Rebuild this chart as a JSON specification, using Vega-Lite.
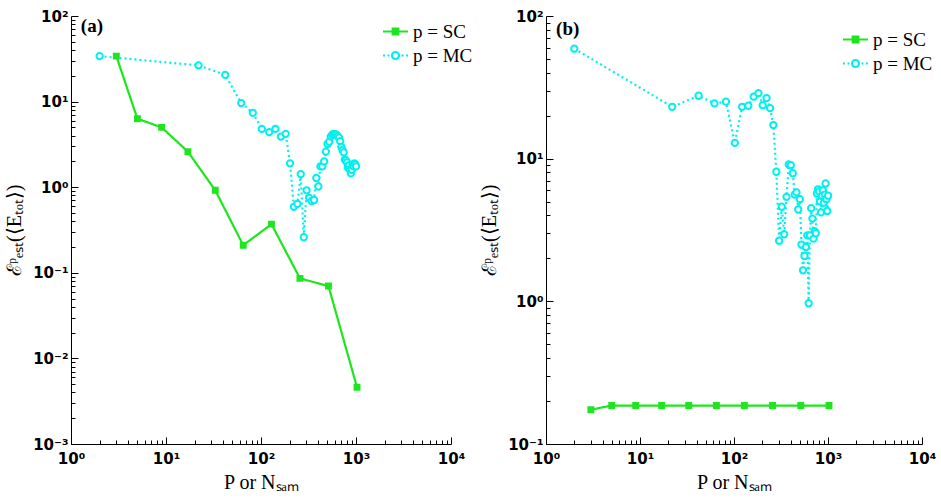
{
  "$schema": "https://vega.github.io/schema/vega-lite/v6.json",
  "background": "white",
  "padding": {"left": 4, "top": 9, "right": 5, "bottom": 3},
  "datasets": {
    "a": [
      {"series": "p = SC", "x": 3, "y": 34},
      {"series": "p = SC", "x": 5, "y": 6.3},
      {"series": "p = SC", "x": 9, "y": 5.0},
      {"series": "p = SC", "x": 17, "y": 2.6},
      {"series": "p = SC", "x": 33, "y": 0.92},
      {"series": "p = SC", "x": 65, "y": 0.21},
      {"series": "p = SC", "x": 129, "y": 0.37},
      {"series": "p = SC", "x": 257, "y": 0.086},
      {"series": "p = SC", "x": 513, "y": 0.070},
      {"series": "p = SC", "x": 1025, "y": 0.0046},
      {"series": "p = MC", "x": 2, "y": 34},
      {"series": "p = MC", "x": 22, "y": 26.5},
      {"series": "p = MC", "x": 42, "y": 20.5},
      {"series": "p = MC", "x": 62, "y": 9.6},
      {"series": "p = MC", "x": 82, "y": 7.4},
      {"series": "p = MC", "x": 102, "y": 4.8},
      {"series": "p = MC", "x": 122, "y": 4.4},
      {"series": "p = MC", "x": 142, "y": 4.8},
      {"series": "p = MC", "x": 162, "y": 3.9},
      {"series": "p = MC", "x": 182, "y": 4.2},
      {"series": "p = MC", "x": 202, "y": 1.9},
      {"series": "p = MC", "x": 222, "y": 0.59},
      {"series": "p = MC", "x": 242, "y": 0.64},
      {"series": "p = MC", "x": 262, "y": 1.42},
      {"series": "p = MC", "x": 282, "y": 0.26},
      {"series": "p = MC", "x": 302, "y": 0.92},
      {"series": "p = MC", "x": 322, "y": 0.75},
      {"series": "p = MC", "x": 342, "y": 0.69},
      {"series": "p = MC", "x": 362, "y": 0.71},
      {"series": "p = MC", "x": 382, "y": 1.28},
      {"series": "p = MC", "x": 402, "y": 1.02},
      {"series": "p = MC", "x": 422, "y": 1.75},
      {"series": "p = MC", "x": 442, "y": 1.75},
      {"series": "p = MC", "x": 462, "y": 2.0},
      {"series": "p = MC", "x": 482, "y": 2.6},
      {"series": "p = MC", "x": 502, "y": 3.2},
      {"series": "p = MC", "x": 522, "y": 3.4},
      {"series": "p = MC", "x": 542, "y": 3.9},
      {"series": "p = MC", "x": 562, "y": 4.1},
      {"series": "p = MC", "x": 582, "y": 4.2},
      {"series": "p = MC", "x": 602, "y": 4.15},
      {"series": "p = MC", "x": 622, "y": 4.1},
      {"series": "p = MC", "x": 642, "y": 3.95},
      {"series": "p = MC", "x": 662, "y": 3.8},
      {"series": "p = MC", "x": 682, "y": 3.45},
      {"series": "p = MC", "x": 702, "y": 2.95},
      {"series": "p = MC", "x": 722, "y": 2.7},
      {"series": "p = MC", "x": 742, "y": 2.55},
      {"series": "p = MC", "x": 762, "y": 2.1},
      {"series": "p = MC", "x": 782, "y": 2.05},
      {"series": "p = MC", "x": 802, "y": 1.95},
      {"series": "p = MC", "x": 822, "y": 1.7},
      {"series": "p = MC", "x": 842, "y": 1.8},
      {"series": "p = MC", "x": 862, "y": 1.6},
      {"series": "p = MC", "x": 882, "y": 1.45},
      {"series": "p = MC", "x": 902, "y": 1.6},
      {"series": "p = MC", "x": 922, "y": 1.85},
      {"series": "p = MC", "x": 942, "y": 1.75},
      {"series": "p = MC", "x": 962, "y": 1.9},
      {"series": "p = MC", "x": 982, "y": 1.85},
      {"series": "p = MC", "x": 1002, "y": 1.75}
    ],
    "b": [
      {"series": "p = SC", "x": 3, "y": 0.174},
      {"series": "p = SC", "x": 5, "y": 0.186},
      {"series": "p = SC", "x": 9, "y": 0.186},
      {"series": "p = SC", "x": 17, "y": 0.186},
      {"series": "p = SC", "x": 33, "y": 0.186},
      {"series": "p = SC", "x": 65, "y": 0.186},
      {"series": "p = SC", "x": 129, "y": 0.186},
      {"series": "p = SC", "x": 257, "y": 0.186},
      {"series": "p = SC", "x": 513, "y": 0.186},
      {"series": "p = SC", "x": 1025, "y": 0.186},
      {"series": "p = MC", "x": 2, "y": 59},
      {"series": "p = MC", "x": 22, "y": 23.1},
      {"series": "p = MC", "x": 42, "y": 27.6},
      {"series": "p = MC", "x": 62, "y": 24.4},
      {"series": "p = MC", "x": 82, "y": 25.1},
      {"series": "p = MC", "x": 102, "y": 12.9},
      {"series": "p = MC", "x": 122, "y": 23.1},
      {"series": "p = MC", "x": 142, "y": 23.5},
      {"series": "p = MC", "x": 162, "y": 27.2},
      {"series": "p = MC", "x": 182, "y": 28.8},
      {"series": "p = MC", "x": 202, "y": 23.7},
      {"series": "p = MC", "x": 222, "y": 26.6},
      {"series": "p = MC", "x": 242, "y": 22.6},
      {"series": "p = MC", "x": 262, "y": 17.2},
      {"series": "p = MC", "x": 282, "y": 8.1},
      {"series": "p = MC", "x": 302, "y": 2.66},
      {"series": "p = MC", "x": 322, "y": 4.6},
      {"series": "p = MC", "x": 342, "y": 2.95},
      {"series": "p = MC", "x": 362, "y": 5.4},
      {"series": "p = MC", "x": 382, "y": 9.1},
      {"series": "p = MC", "x": 402, "y": 9.0},
      {"series": "p = MC", "x": 422, "y": 7.9},
      {"series": "p = MC", "x": 442, "y": 5.6},
      {"series": "p = MC", "x": 462, "y": 5.8},
      {"series": "p = MC", "x": 482, "y": 4.4},
      {"series": "p = MC", "x": 502, "y": 5.2},
      {"series": "p = MC", "x": 522, "y": 2.5},
      {"series": "p = MC", "x": 542, "y": 1.65},
      {"series": "p = MC", "x": 562, "y": 2.08},
      {"series": "p = MC", "x": 582, "y": 2.4},
      {"series": "p = MC", "x": 602, "y": 2.9},
      {"series": "p = MC", "x": 622, "y": 0.97},
      {"series": "p = MC", "x": 642, "y": 2.9},
      {"series": "p = MC", "x": 662, "y": 4.5},
      {"series": "p = MC", "x": 682, "y": 3.8},
      {"series": "p = MC", "x": 702, "y": 2.75},
      {"series": "p = MC", "x": 722, "y": 3.1},
      {"series": "p = MC", "x": 742, "y": 3.0},
      {"series": "p = MC", "x": 762, "y": 5.7},
      {"series": "p = MC", "x": 782, "y": 6.1},
      {"series": "p = MC", "x": 802, "y": 5.9},
      {"series": "p = MC", "x": 822, "y": 5.0},
      {"series": "p = MC", "x": 842, "y": 4.2},
      {"series": "p = MC", "x": 862, "y": 5.5},
      {"series": "p = MC", "x": 882, "y": 6.0},
      {"series": "p = MC", "x": 902, "y": 4.9},
      {"series": "p = MC", "x": 922, "y": 5.6},
      {"series": "p = MC", "x": 942, "y": 6.7},
      {"series": "p = MC", "x": 962, "y": 5.2},
      {"series": "p = MC", "x": 982, "y": 4.3},
      {"series": "p = MC", "x": 1002, "y": 5.5}
    ]
  },
  "hconcat": [
    {
      "width": 380,
      "height": 428,
      "layer": [
        {
          "data": {"name": "a"},
          "mark": {"type": "line", "strokeWidth": 2.2},
          "encoding": {
            "x": {"field": "x", "type": "quantitative", "scale": {"type": "log", "domain": [1, 10000], "nice": false},
              "axis": {"title": "P or Nₛₐₘ", "values": [1,2,3,4,5,6,7,8,9,10,20,30,40,50,60,70,80,90,100,200,300,400,500,600,700,800,900,1000,2000,3000,4000,5000,6000,7000,8000,9000,10000],
                "labelExpr": "abs(log(datum.value)/LN10 - round(log(datum.value)/LN10)) < 0.001 ? '10' + ['⁻³','⁻²','⁻¹','⁰','¹','²','³','⁴'][round(log(datum.value)/LN10)+3] : ''",
                "tickSize": {"condition": {"test": "abs(log(datum.value)/LN10 - round(log(datum.value)/LN10)) < 0.001", "value": -7}, "value": -4}}},
            "y": {"field": "y", "type": "quantitative", "scale": {"type": "log", "domain": [0.001, 100], "nice": false},
              "axis": {"title": "ℰᵖₑₛₜ(⟨Eₜₒₜ⟩)", "values": [0.001,0.002,0.003,0.004,0.005,0.006,0.007,0.008,0.009,0.01,0.02,0.03,0.04,0.05,0.06,0.07,0.08,0.09,0.1,0.2,0.3,0.4,0.5,0.6,0.7,0.8,0.9,1,2,3,4,5,6,7,8,9,10,20,30,40,50,60,70,80,90,100],
                "labelExpr": "abs(log(datum.value)/LN10 - round(log(datum.value)/LN10)) < 0.001 ? '10' + ['⁻³','⁻²','⁻¹','⁰','¹','²','³','⁴'][round(log(datum.value)/LN10)+3] : ''",
                "tickSize": {"condition": {"test": "abs(log(datum.value)/LN10 - round(log(datum.value)/LN10)) < 0.001", "value": -7}, "value": -4}}},
            "color": {"field": "series", "type": "nominal", "scale": {"domain": ["p = SC", "p = MC"], "range": ["#1ee61e", "#00f0f0"]},
              "legend": {"orient": "none", "legendX": 313, "legendY": 4, "title": null, "symbolSize": 400, "labelOffset": 6, "rowPadding": 2, "labelFont": "Liberation Serif", "labelFontSize": 19,
                "encode": {"symbols": {"update": {
                  "shape": {"signal": "datum.value === 'p = SC' ? 'M-1.25,0H1.25M-0.28,-0.28H0.28V0.28H-0.28Z' : 'M-1.25,0H-1.05M-0.8,0H-0.6M0.6,0H0.8M1.05,0H1.25M0.35,0A0.35,0.35 0 1,1 -0.35,0A0.35,0.35 0 1,1 0.35,0Z'"},
                  "fill": {"signal": "datum.value === 'p = SC' ? '#1ee61e' : 'white'"},
                  "stroke": {"signal": "datum.value === 'p = SC' ? '#1ee61e' : '#00f0f0'"},
                  "strokeWidth": {"value": 2.2},
                  "strokeDash": {"value": []},
                  "opacity": {"value": 1}}}}}},
            "strokeDash": {"field": "series", "type": "nominal", "scale": {"domain": ["p = SC", "p = MC"], "range": [[1, 0], [2, 3]]}, "legend": null}
          }
        },
        {
          "data": {"name": "a"},
          "mark": {"type": "point", "filled": true, "strokeWidth": 2, "opacity": 1},
          "encoding": {
            "x": {"field": "x", "type": "quantitative"},
            "y": {"field": "y", "type": "quantitative"},
            "shape": {"field": "series", "type": "nominal", "scale": {"domain": ["p = SC", "p = MC"], "range": ["square", "circle"]}, "legend": null},
            "fill": {"field": "series", "type": "nominal", "scale": {"domain": ["p = SC", "p = MC"], "range": ["#1ee61e", "white"]}, "legend": null},
            "stroke": {"field": "series", "type": "nominal", "scale": {"domain": ["p = SC", "p = MC"], "range": ["#1ee61e", "#00f0f0"]}, "legend": null},
            "size": {"field": "series", "type": "nominal", "scale": {"domain": ["p = SC", "p = MC"], "range": [24, 40]}, "legend": null}
          }
        },
        {
          "data": {"values": [{"t": "(a)", "x": 1.27, "y": 76}]},
          "mark": {"type": "text", "align": "left", "baseline": "middle", "font": "Liberation Serif", "fontWeight": "bold", "fontSize": 19, "color": "black"},
          "encoding": {
            "x": {"field": "x", "type": "quantitative"},
            "y": {"field": "y", "type": "quantitative"},
            "text": {"field": "t"}
          }
        }
      ]
    },
    {
      "width": 376,
      "height": 428,
      "layer": [
        {
          "data": {"name": "b"},
          "mark": {"type": "line", "strokeWidth": 2.2},
          "encoding": {
            "x": {"field": "x", "type": "quantitative", "scale": {"type": "log", "domain": [1, 10000], "nice": false},
              "axis": {"title": "P or Nₛₐₘ", "values": [1,2,3,4,5,6,7,8,9,10,20,30,40,50,60,70,80,90,100,200,300,400,500,600,700,800,900,1000,2000,3000,4000,5000,6000,7000,8000,9000,10000],
                "labelExpr": "abs(log(datum.value)/LN10 - round(log(datum.value)/LN10)) < 0.001 ? '10' + ['⁻³','⁻²','⁻¹','⁰','¹','²','³','⁴'][round(log(datum.value)/LN10)+3] : ''",
                "tickSize": {"condition": {"test": "abs(log(datum.value)/LN10 - round(log(datum.value)/LN10)) < 0.001", "value": -7}, "value": -4}}},
            "y": {"field": "y", "type": "quantitative", "scale": {"type": "log", "domain": [0.1, 100], "nice": false},
              "axis": {"title": "ℰᵖₑₛₜ(⟨Eₜₒₜ⟩)", "values": [0.1,0.2,0.3,0.4,0.5,0.6,0.7,0.8,0.9,1,2,3,4,5,6,7,8,9,10,20,30,40,50,60,70,80,90,100],
                "labelExpr": "abs(log(datum.value)/LN10 - round(log(datum.value)/LN10)) < 0.001 ? '10' + ['⁻³','⁻²','⁻¹','⁰','¹','²','³','⁴'][round(log(datum.value)/LN10)+3] : ''",
                "tickSize": {"condition": {"test": "abs(log(datum.value)/LN10 - round(log(datum.value)/LN10)) < 0.001", "value": -7}, "value": -4}}},
            "color": {"field": "series", "type": "nominal", "scale": {"domain": ["p = SC", "p = MC"], "range": ["#1ee61e", "#00f0f0"]},
              "legend": {"orient": "none", "legendX": 298, "legendY": 12, "title": null, "symbolSize": 400, "labelOffset": 6, "rowPadding": 2, "labelFont": "Liberation Serif", "labelFontSize": 19,
                "encode": {"symbols": {"update": {
                  "shape": {"signal": "datum.value === 'p = SC' ? 'M-1.25,0H1.25M-0.28,-0.28H0.28V0.28H-0.28Z' : 'M-1.25,0H-1.05M-0.8,0H-0.6M0.6,0H0.8M1.05,0H1.25M0.35,0A0.35,0.35 0 1,1 -0.35,0A0.35,0.35 0 1,1 0.35,0Z'"},
                  "fill": {"signal": "datum.value === 'p = SC' ? '#1ee61e' : 'white'"},
                  "stroke": {"signal": "datum.value === 'p = SC' ? '#1ee61e' : '#00f0f0'"},
                  "strokeWidth": {"value": 2.2},
                  "strokeDash": {"value": []},
                  "opacity": {"value": 1}}}}}},
            "strokeDash": {"field": "series", "type": "nominal", "scale": {"domain": ["p = SC", "p = MC"], "range": [[1, 0], [2, 3]]}, "legend": null}
          }
        },
        {
          "data": {"name": "b"},
          "mark": {"type": "point", "filled": true, "strokeWidth": 2, "opacity": 1},
          "encoding": {
            "x": {"field": "x", "type": "quantitative"},
            "y": {"field": "y", "type": "quantitative"},
            "shape": {"field": "series", "type": "nominal", "scale": {"domain": ["p = SC", "p = MC"], "range": ["square", "circle"]}, "legend": null},
            "fill": {"field": "series", "type": "nominal", "scale": {"domain": ["p = SC", "p = MC"], "range": ["#1ee61e", "white"]}, "legend": null},
            "stroke": {"field": "series", "type": "nominal", "scale": {"domain": ["p = SC", "p = MC"], "range": ["#1ee61e", "#00f0f0"]}, "legend": null},
            "size": {"field": "series", "type": "nominal", "scale": {"domain": ["p = SC", "p = MC"], "range": [24, 40]}, "legend": null}
          }
        },
        {
          "data": {"values": [{"t": "(b)", "x": 1.28, "y": 81}]},
          "mark": {"type": "text", "align": "left", "baseline": "middle", "font": "Liberation Serif", "fontWeight": "bold", "fontSize": 19, "color": "black"},
          "encoding": {
            "x": {"field": "x", "type": "quantitative"},
            "y": {"field": "y", "type": "quantitative"},
            "text": {"field": "t"}
          }
        }
      ]
    }
  ],
  "spacing": 95,
  "bounds": "flush",
  "resolve": {"scale": {"color": "independent", "x": "independent", "y": "independent"}, "legend": {"color": "independent"}},
  "config": {
    "view": {"stroke": null},
    "axis": {
      "grid": false,
      "domainColor": "black",
      "domainWidth": 1,
      "tickColor": "black",
      "tickWidth": 1,
      "labelColor": "black",
      "labelFont": "DejaVu Sans",
      "labelFontWeight": "bold",
      "labelFontSize": 15,
      "labelFlush": false,
      "labelOverlap": false,
      "titleFont": "Liberation Serif",
      "titleFontWeight": "normal",
      "titleFontSize": 20,
      "titleColor": "black"
    },
    "axisX": {"labelPadding": 14, "titlePadding": 3},
    "axisY": {"labelPadding": 10, "titlePadding": 8},
    "legend": {"labelFont": "Liberation Serif", "labelFontSize": 19, "labelColor": "black"}
  }
}
